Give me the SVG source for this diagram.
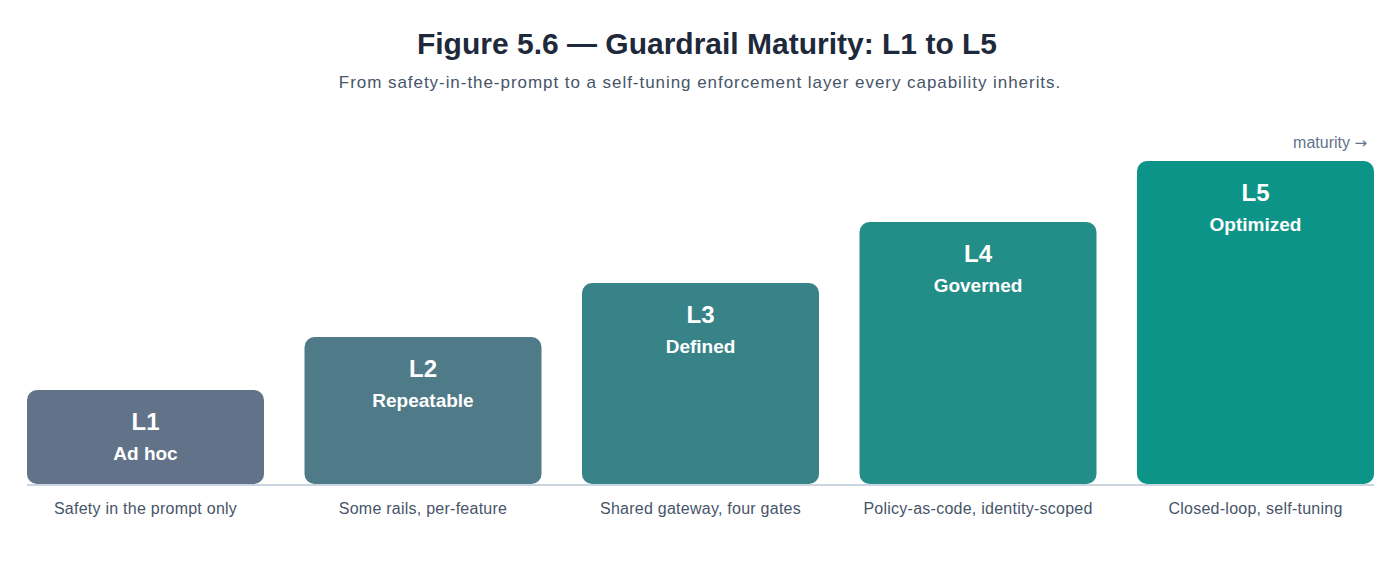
<svg xmlns="http://www.w3.org/2000/svg" width="1400" height="565" viewBox="0 0 1400 565">
<style>
.title{font-family:"Liberation Sans",Arial,sans-serif;font-size:30px;font-weight:bold;fill:#1e293b;text-anchor:middle}
.sub{font-family:"Liberation Sans",Arial,sans-serif;font-size:17px;letter-spacing:0.95px;fill:#475569;text-anchor:middle}
.lvl{font-family:"Liberation Sans",Arial,sans-serif;font-size:24px;font-weight:bold;fill:#ffffff;text-anchor:middle}
.name{font-family:"Liberation Sans",Arial,sans-serif;font-size:19px;font-weight:bold;fill:#ffffff;text-anchor:middle}
.desc{font-family:"Liberation Sans",Arial,sans-serif;font-size:16px;letter-spacing:0.25px;fill:#475569;text-anchor:middle}
.axis{font-family:"Liberation Sans",Arial,sans-serif;font-size:16px;fill:#64748b;text-anchor:end}
.arr{font-family:"DejaVu Sans",sans-serif;font-size:15px}
</style>
<rect width="1400" height="565" fill="#ffffff"/>
<text class="title" x="707" y="54">Figure 5.6 — Guardrail Maturity: L1 to L5</text>
<text class="sub" x="700" y="88">From safety-in-the-prompt to a self-tuning enforcement layer every capability inherits.</text>
<text class="axis" x="1367" y="148">maturity <tspan class="arr">→</tspan></text>
<g id="connectors">
<line x1="27" y1="485" x2="1374" y2="485" stroke="#cbd5e1" stroke-width="2"/>
</g>
<g id="L1">
<rect x="27" y="390" width="237" height="94" rx="10" fill="#627289"/>
<text class="lvl" x="145.5" y="430">L1</text>
<text class="name" x="145.5" y="460">Ad hoc</text>
<text class="desc" x="145.5" y="514">Safety in the prompt only</text>
</g>
<g id="L2">
<rect x="304.5" y="337" width="237" height="147" rx="10" fill="#4f7a87"/>
<text class="lvl" x="423" y="377">L2</text>
<text class="name" x="423" y="407">Repeatable</text>
<text class="desc" x="423" y="514">Some rails, per-feature</text>
</g>
<g id="L3">
<rect x="582" y="283" width="237" height="201" rx="10" fill="#388387"/>
<text class="lvl" x="700.5" y="323">L3</text>
<text class="name" x="700.5" y="353">Defined</text>
<text class="desc" x="700.5" y="514">Shared gateway, four gates</text>
</g>
<g id="L4">
<rect x="859.5" y="222" width="237" height="262" rx="10" fill="#238d87"/>
<text class="lvl" x="978" y="262">L4</text>
<text class="name" x="978" y="292">Governed</text>
<text class="desc" x="978" y="514">Policy-as-code, identity-scoped</text>
</g>
<g id="L5">
<rect x="1137" y="161" width="237" height="323" rx="10" fill="#0d9488"/>
<text class="lvl" x="1255.5" y="201">L5</text>
<text class="name" x="1255.5" y="231">Optimized</text>
<text class="desc" x="1255.5" y="514">Closed-loop, self-tuning</text>
</g>
</svg>
